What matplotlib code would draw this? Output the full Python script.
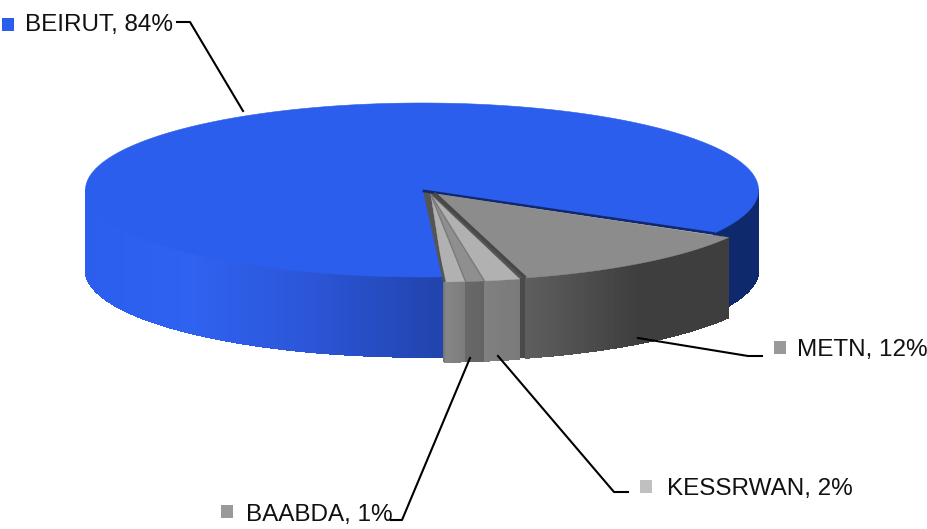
import numpy as np
import matplotlib
matplotlib.use("Agg")
import matplotlib.pyplot as plt
from matplotlib.collections import PolyCollection
from matplotlib.colors import to_rgb
from matplotlib.patches import Polygon, Rectangle

plt.rcParams["font.family"] = ["Liberation Sans", "DejaVu Sans"]

# clockwise from the right hand edge of METN; the last small slice has no label in the source
names = ["METN", "KESSRWAN", "BAABDA", "OTHER", "BEIRUT"]
shares = [12.43, 1.7, 0.9, 1.0, 83.97]
start_angle = -30

top_colors = ["#8c8c8c", "#b1b1b1", "#8f8f8f", "#b1b1b1", "#2b5eec"]
wall_stops = [
    [(0.0, "#5e5e5e"), (0.55, "#3e3e3e"), (1.0, "#3e3e3e")],
    [(0.0, "#808080"), (1.0, "#7a7a7a")],
    [(0.0, "#686868"), (1.0, "#646464")],
    [(0.0, "#868686"), (1.0, "#7c7c7c")],
    [(0.0, "#2b5eec"), (0.3, "#2f62f0"), (0.62, "#2c56d8"), (1.0, "#2143ac")],
]
offsets = [(15, 4), (9, 5), (9, 5), (9, 5), (0, 0)]

labels = ["BEIRUT, 84%", "METN, 12%", "KESSRWAN, 2%", "BAABDA, 1%"]
label_pos = [(25, 25), (797, 350), (667, 489), (246, 515)]
marker_pos = [(2, 18), (774, 341), (640, 480), (221, 505)]
marker_colors = ["#2b5eec", "#999999", "#c0c0c0", "#999999"]
leaders = [
    [(177, 22), (190, 22), (243, 111)],
    [(638, 338), (748, 356), (762, 356)],
    [(498, 356), (614, 492), (628, 492)],
    [(470, 358), (402, 520), (391, 520)],
]

CX, CY = 422, 190
RX, RY = 336.5, 87
DEPTH = 80


def rim(deg, off=(0, 0)):
    t = np.radians(deg)
    return CX + off[0] + RX * np.cos(t), CY + off[1] - RY * np.sin(t)


def ramp(stops, f):
    pos = [s[0] for s in stops]
    rgb = np.array([to_rgb(s[1]) for s in stops])
    return tuple(np.interp(f, pos, rgb[:, i]) for i in range(3))


def wall(ax, a0, a1, off, stops, z):
    # shading runs left to right across the wall, so split it into thin pieces
    steps = np.linspace(a0, a1, max(2, int(abs(a0 - a1) * 2) + 1))
    xl, xr = sorted([rim(a0, off)[0], rim(a1, off)[0]])
    polys, colors = [], []
    for p, q in zip(steps[:-1], steps[1:]):
        x0, y0 = rim(p, off)
        x1, y1 = rim(q, off)
        polys.append([(x0, y0), (x1, y1), (x1, y1 + DEPTH), (x0, y0 + DEPTH)])
        colors.append(ramp(stops, ((x0 + x1) / 2 - xl) / (xr - xl)))
    ax.add_collection(PolyCollection(polys, facecolors=colors, edgecolors=colors,
                                     linewidths=0.5, antialiaseds=False, zorder=z))


fig = plt.figure(figsize=(9.28, 5.29), dpi=100)
ax = fig.add_axes([0, 0, 1, 1])
ax.set_xlim(0, 928)
ax.set_ylim(529, 0)
ax.axis("off")

edges = start_angle - np.cumsum([0] + shares) * 3.6
apex_main = (CX + 2, CY + 1)

# where the OTHER slice starts, BEIRUT has to reach that far or a white gap shows
lx, ly = rim(edges[4], offsets[3])
beirut_start = -np.degrees(np.arccos((lx + 1 - CX) / RX))

# BEIRUT first: it sits behind everything else
wall(ax, -180, beirut_start, offsets[4], wall_stops[4], 1)
wall(ax, 0, start_angle, offsets[4], [(0.0, "#0f2a6c"), (1.0, "#0f2a6c")], 1)
ts = np.linspace(beirut_start, edges[5], 400)
ax.add_patch(Polygon([apex_main] + [rim(t) for t in ts], fc=top_colors[4], ec=top_colors[4], lw=0.4, zorder=2))
ex, ey = rim(edges[5])
ax.plot([apex_main[0], ex], [apex_main[1], ey], color="#12286e", lw=2, zorder=3)

# grey behind the pulled out slices so the gaps between them are not white
mx, my = rim(edges[1], offsets[0])
metn_apex = (CX + offsets[0][0], CY + offsets[0][1])
ax.add_patch(Polygon([apex_main, metn_apex, (mx, my), (lx, ly)], fc="#555555", ec="#555555", lw=1, zorder=2.5))

# the small slices, then METN on top
for i in [3, 2, 1, 0]:
    a0, a1 = edges[i], edges[i + 1]
    off = offsets[i]
    wall(ax, a0, a1, off, wall_stops[i], 6 - i * 0.1)
    ts = np.linspace(a0, a1, 60)
    apex = (CX + off[0], CY + off[1])
    ax.add_patch(Polygon([apex] + [rim(t, off) for t in ts], fc=top_colors[i], ec=top_colors[i], lw=0.3, zorder=7))
    if i in (2, 3):
        x, y = rim(a0, off)
        ax.plot([apex[0], x], [apex[1], y], color="#7a7a7a", lw=1, zorder=8)

# dark cut faces showing where the pulled out slices leave a gap
gx, gy = rim(edges[1], offsets[1])
ax.plot([metn_apex[0] - 3, mx], [metn_apex[1] - 1, my], color="#484848", lw=2.4, zorder=9,
        solid_capstyle="butt")
ax.add_patch(Rectangle((gx - 1, min(gy, my)), mx - gx + 2, DEPTH, fc="#4a4a4a", ec="none", zorder=5.5))
ax.plot([apex_main[0] + 1, lx], [apex_main[1] + 2, ly], color="#555555", lw=2, zorder=9, solid_capstyle="butt")
ax.add_patch(Rectangle((lx - 1, ly), 2, DEPTH, fc="#777777", ec="none", zorder=6.5))

for pts in leaders:
    xs, ys = zip(*pts)
    ax.plot(xs, ys, color="black", lw=1.5, zorder=10)

for text, pos, mpos, col in zip(labels, label_pos, marker_pos, marker_colors):
    ax.add_patch(Rectangle(mpos, 12.5, 12.5, fc=col, ec="none", zorder=10))
    ax.text(pos[0], pos[1], text, fontsize=17.5, color="#111111", ha="left", va="center", zorder=11)

fig.savefig("out.png", dpi=100)
